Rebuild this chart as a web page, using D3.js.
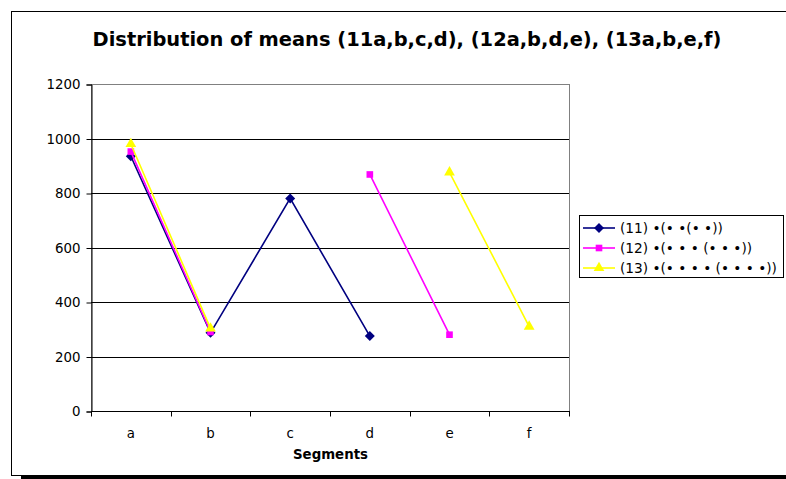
<!DOCTYPE html>
<html>
<head>
<meta charset="utf-8">
<script src="https://cdn.jsdelivr.net/npm/d3@7"></script>
<style>
  body { margin: 0; background: #fff; }
  svg { display: block; }
  text { font-family: "DejaVu Sans", Verdana, sans-serif; fill: #000; }
</style>
</head>
<body>
<svg id="chart" width="786" height="479"></svg>
<script>
// Segment categories and the mean of each series per segment (null = no value)
const categories = ["a", "b", "c", "d", "e", "f"];
const series11 = [935, 287, 780, 275, null, null];
const series12 = [952, 290, null, 868, 280, null];
const series13 = [980, 303, null, null, 876, 310];
const seriesNames = ["(11) •(• •(• •))", "(12) •(• • • (• • •))", "(13) •(• • • • (• • • •))"];
const yTicks = [0, 200, 400, 600, 800, 1000, 1200];

const titleText = "Distribution of means (11a,b,c,d), (12a,b,d,e), (13a,b,e,f)";
const xTitle = "Segments";

const svg = d3.select("#chart");

// Outer frame with a drop shadow along the bottom
svg.append("rect").attr("x", 21).attr("y", 475.5).attr("width", 800).attr("height", 4).attr("fill", "#000");
svg.append("rect").attr("x", 11.5).attr("y", 11.5).attr("width", 800).attr("height", 464)
  .attr("fill", "#fff").attr("stroke", "#000").attr("stroke-width", 1);

// Plot area
const plot = { left: 91, right: 569, top: 84, bottom: 411 };

const x = d3.scaleBand().domain(categories).range([plot.left, plot.right]);
const y = d3.scaleLinear().domain([0, 1200]).range([plot.bottom, plot.top]);

// Fit a text element to a target width by adjusting its font size
function fit(sel, width) {
  const node = sel.node();
  const fs = parseFloat(sel.attr("font-size"));
  const w = node.getComputedTextLength();
  if (w > 0) sel.attr("font-size", (fs * width / w).toFixed(2));
  return sel;
}

// Square diamond marker (a square turned 45 degrees)
const diamond = {
  draw(ctx, size) {
    const r = Math.sqrt(size / 2);
    ctx.moveTo(0, -r); ctx.lineTo(r, 0); ctx.lineTo(0, r); ctx.lineTo(-r, 0); ctx.closePath();
  }
};

// Plot area border (gray)
svg.append("rect")
  .attr("x", plot.left + 0.5).attr("y", plot.top + 0.5)
  .attr("width", plot.right - plot.left).attr("height", plot.bottom - plot.top)
  .attr("fill", "#fff").attr("stroke", "#808080").attr("stroke-width", 1);

// Horizontal gridlines
svg.append("g").selectAll("line").data(yTicks.filter(d => d > 0 && d < 1200)).join("line")
  .attr("x1", plot.left).attr("x2", plot.right)
  .attr("y1", d => Math.round(y(d)) + 0.5).attr("y2", d => Math.round(y(d)) + 0.5)
  .attr("stroke", "#000").attr("stroke-width", 1);

// Y axis
const yAxis = svg.append("g")
  .attr("transform", `translate(${plot.left + 0.5},0.5)`)
  .call(d3.axisLeft(y).tickValues(yTicks).tickSize(5).tickPadding(6).tickFormat(d3.format("d")));
yAxis.select(".domain").attr("stroke", "#000");
yAxis.selectAll(".tick line").attr("stroke", "#000");
yAxis.selectAll(".tick text").attr("font-size", 12.5).attr("font-family", "DejaVu Sans").attr("fill", "#000");
const widest = yAxis.selectAll(".tick text").filter(d => d === 1200);
fit(widest, 34);
const tickFs = widest.attr("font-size");
yAxis.selectAll(".tick text").attr("font-size", tickFs);

// X axis: ticks on category boundaries, labels centered in bands
const xAxisG = svg.append("g").attr("transform", `translate(0,${plot.bottom + 0.5})`);
xAxisG.append("line").attr("x1", plot.left).attr("x2", plot.right + 1).attr("y1", 0).attr("y2", 0).attr("stroke", "#000");
const bounds = categories.map(c => x(c)).concat([x(categories[categories.length - 1]) + x.bandwidth()]);
xAxisG.selectAll("line.tk").data(bounds).join("line").attr("class", "tk")
  .attr("x1", d => Math.round(d) + 0.5).attr("x2", d => Math.round(d) + 0.5)
  .attr("y1", 0).attr("y2", 5).attr("stroke", "#000");
xAxisG.selectAll("text").data(categories).join("text")
  .attr("x", d => x(d) + x.bandwidth() / 2).attr("y", 26)
  .attr("text-anchor", "middle").attr("font-size", tickFs).text(d => d);

// Titles
const t = svg.append("text").attr("x", 407).attr("y", 46).attr("text-anchor", "middle")
  .attr("font-size", 14).attr("font-weight", "bold").text(titleText);
fit(t, 629);
const xt = svg.append("text").attr("x", 330.5).attr("y", 459).attr("text-anchor", "middle")
  .attr("font-size", 12).attr("font-weight", "bold").text(xTitle);
fit(xt, 75);

// Series
const cx = c => x(c) + x.bandwidth() / 2;
const series = [
  { values: series11, color: "#000080", marker: diamond, size: 50 },
  { values: series12, color: "#FF00FF", marker: d3.symbolSquare, size: 44 },
  { values: series13, color: "#FFFF00", marker: d3.symbolTriangle, size: 50 }
];

const line = d3.line()
  .defined(d => d.v != null)
  .x(d => cx(d.c)).y(d => y(d.v));

series.forEach(s => {
  const pts = categories.map((c, i) => ({ c, v: s.values[i] }));
  svg.append("path").datum(pts).attr("d", line)
    .attr("fill", "none").attr("stroke", s.color).attr("stroke-width", 1.6);
  svg.append("g").selectAll("path").data(pts.filter(d => d.v != null)).join("path")
    .attr("transform", d => `translate(${cx(d.c)},${y(d.v)})`)
    .attr("d", d3.symbol().type(s.marker).size(s.size))
    .attr("fill", s.color);
});

// Legend
const lg = svg.append("g");
lg.append("rect").attr("x", 579.5).attr("y", 215.5).attr("width", 204).attr("height", 62)
  .attr("fill", "#fff").attr("stroke", "#000");
const rowY = [228, 248, 268];
series.forEach((s, i) => {
  lg.append("line").attr("x1", 583).attr("x2", 615).attr("y1", rowY[i]).attr("y2", rowY[i])
    .attr("stroke", s.color).attr("stroke-width", 1.6);
  lg.append("path").attr("transform", `translate(599,${rowY[i]})`)
    .attr("d", d3.symbol().type(s.marker).size(s.size)).attr("fill", s.color);
  lg.append("text").attr("x", 620).attr("y", rowY[i] + 4.5).attr("font-size", 12)
    .attr("class", "lt").text(seriesNames[i]);
});
const lts = lg.selectAll("text.lt");
const last = d3.select(lts.nodes()[2]);
fit(last, 157);
lts.attr("font-size", last.attr("font-size"));
</script>
</body>
</html>
